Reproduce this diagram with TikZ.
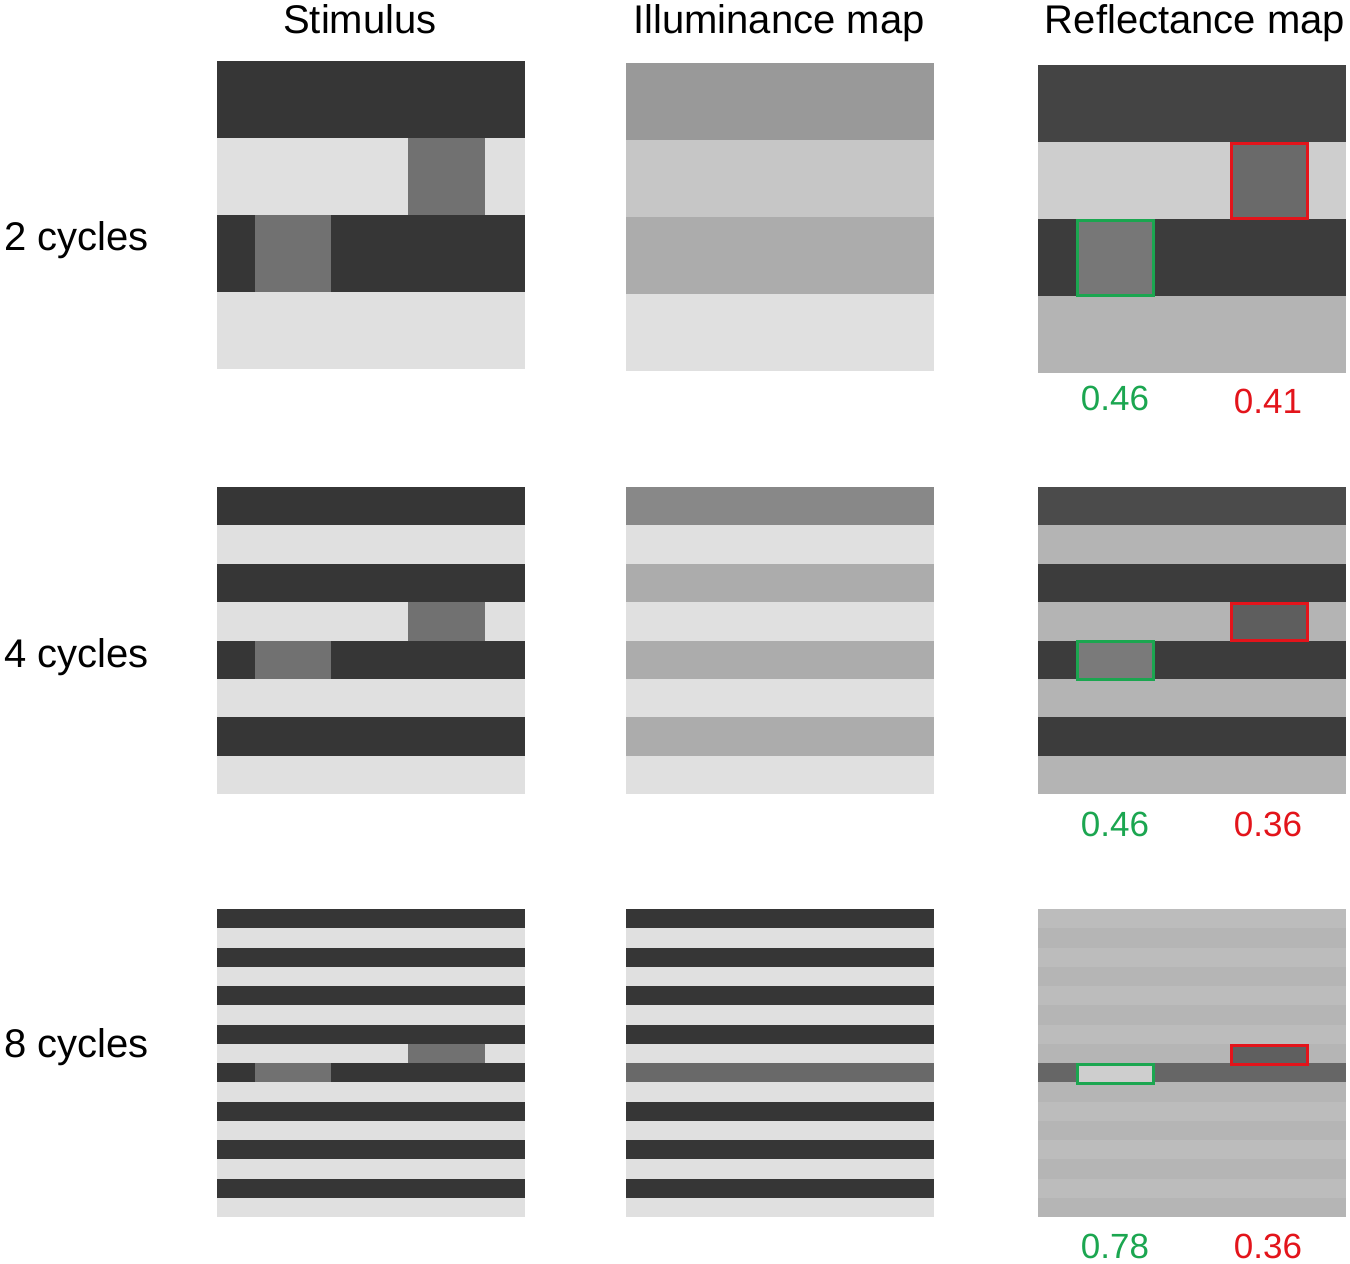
\documentclass[tikz,border=0pt]{standalone}
\usepackage{fontspec}
\setmainfont{Liberation Sans}
\definecolor{cSdk}{HTML}{363636}
\definecolor{cSlt}{HTML}{E0E0E0}
\definecolor{cSpt}{HTML}{717171}
\definecolor{cIa}{HTML}{999999}
\definecolor{cIb}{HTML}{C6C6C6}
\definecolor{cIc}{HTML}{ACACAC}
\definecolor{cId}{HTML}{888888}
\definecolor{cIe}{HTML}{696969}
\definecolor{cRa}{HTML}{444444}
\definecolor{cRb}{HTML}{CECECE}
\definecolor{cRc}{HTML}{3C3C3C}
\definecolor{cRd}{HTML}{B4B4B4}
\definecolor{cRe}{HTML}{4B4B4B}
\definecolor{cRf}{HTML}{BCBCBC}
\definecolor{cRg}{HTML}{B5B5B5}
\definecolor{cRh}{HTML}{666666}
\definecolor{cRedPatch}{HTML}{6A6A6A}
\definecolor{cGrnPatch}{HTML}{777777}
\definecolor{cGrnPatchB}{HTML}{7A7A7A}
\definecolor{cRedPatchB}{HTML}{5E5E5E}
\definecolor{cRedPatchC}{HTML}{5F5F5F}
\definecolor{mygreen}{HTML}{1BA650}
\definecolor{myred}{HTML}{E3141B}
\tikzset{
  header/.style={anchor=base,font=\fontsize{40}{48}\selectfont,inner sep=0pt},
  rowlab/.style={anchor=base west,font=\fontsize{40}{48}\selectfont,inner sep=0pt},
  val/.style={anchor=base,font=\fontsize{35}{42}\selectfont,inner sep=0pt},
  gbox/.style={draw=mygreen,line width=3pt},
  rbox/.style={draw=myred,line width=3pt}
}
\begin{document}
\begin{tikzpicture}[x=1pt,y=-1pt]
\useasboundingbox[fill=white] (0,0) rectangle (1350,1264);

% headers
\node[header] (h1) at (360,33) {Stimulus};
\node[header] (h2) at (779,33) {Illuminance map};
\node[header] (h3) at (1195,33) {Reflectance map};

% row labels
\node[rowlab] (r1) at (4,250) {2 cycles};
\node[rowlab] (r2) at (4,667) {4 cycles};
\node[rowlab] (r3) at (4,1057) {8 cycles};

% ---------- Row 1 (2 cycles) ----------
\foreach \c [count=\i from 0] in {cSdk,cSlt,cSdk,cSlt}
  \fill[fill=\c] (217,{61+\i*77}) rectangle ++(308,77);
\fill[fill=cSpt] (408,138) rectangle (485,215);
\fill[fill=cSpt] (255,215) rectangle (331,292);

\foreach \c [count=\i from 0] in {cIa,cIb,cIc,cSlt}
  \fill[fill=\c] (626,{63+\i*77}) rectangle ++(308,77);

\foreach \c [count=\i from 0] in {cRa,cRb,cRc,cRd}
  \fill[fill=\c] (1038,{65+\i*77}) rectangle ++(308,77);
\filldraw[fill=cRedPatch,rbox] (1231.5,143.5) rectangle (1307.5,218.5);
\filldraw[fill=cGrnPatch,gbox] (1077.5,220.5) rectangle (1153.5,295.5);
\node[val,text=mygreen] (v11) at (1115,410) {0.46};
\node[val,text=myred] (v12) at (1268,413) {0.41};

% ---------- Row 2 (4 cycles) ----------
\foreach \c [count=\i from 0] in {cSdk,cSlt,cSdk,cSlt,cSdk,cSlt,cSdk,cSlt}
  \fill[fill=\c] (217,{487+\i*38.375}) rectangle ++(308,38.375);
\fill[fill=cSpt] (408,602.1) rectangle (485,640.5);
\fill[fill=cSpt] (255,640.5) rectangle (331,678.9);

\foreach \c [count=\i from 0] in {cId,cSlt,cIc,cSlt,cIc,cSlt,cIc,cSlt}
  \fill[fill=\c] (626,{487+\i*38.375}) rectangle ++(308,38.375);

\foreach \c [count=\i from 0] in {cRe,cRd,cRc,cRd,cRc,cRd,cRc,cRd}
  \fill[fill=\c] (1038,{487+\i*38.375}) rectangle ++(308,38.375);
\filldraw[fill=cRedPatchB,rbox] (1231.5,603.5) rectangle (1307.5,640);
\filldraw[fill=cGrnPatchB,gbox] (1077.5,641.5) rectangle (1153.5,679);
\node[val,text=mygreen] (v21) at (1115,836) {0.46};
\node[val,text=myred] (v22) at (1268,836) {0.36};

% ---------- Row 3 (8 cycles) ----------
\foreach \c [count=\i from 0] in {cSdk,cSlt,cSdk,cSlt,cSdk,cSlt,cSdk,cSlt,cSdk,cSlt,cSdk,cSlt,cSdk,cSlt,cSdk,cSlt}
  \fill[fill=\c] (217,{909+\i*19.25}) rectangle ++(308,19.25);
\fill[fill=cSpt] (408,1043.75) rectangle (485,1063);
\fill[fill=cSpt] (255,1063) rectangle (331,1082.25);

\foreach \c [count=\i from 0] in {cSdk,cSlt,cSdk,cSlt,cSdk,cSlt,cSdk,cSlt,cIe,cSlt,cSdk,cSlt,cSdk,cSlt,cSdk,cSlt}
  \fill[fill=\c] (626,{909+\i*19.25}) rectangle ++(308,19.25);

\foreach \c [count=\i from 0] in {cRf,cRg,cRf,cRg,cRf,cRg,cRf,cRg,cRh,cRg,cRf,cRg,cRf,cRg,cRf,cRg}
  \fill[fill=\c] (1038,{909+\i*19.25}) rectangle ++(308,19.25);
\filldraw[fill=cRedPatchC,rbox] (1231.5,1045.2) rectangle (1307.5,1064.5);
\filldraw[fill=cRb,gbox] (1077.5,1064.5) rectangle (1153.5,1083);
\node[val,text=mygreen] (v31) at (1115,1258) {0.78};
\node[val,text=myred] (v32) at (1268,1258) {0.36};
\end{tikzpicture}
\end{document}
